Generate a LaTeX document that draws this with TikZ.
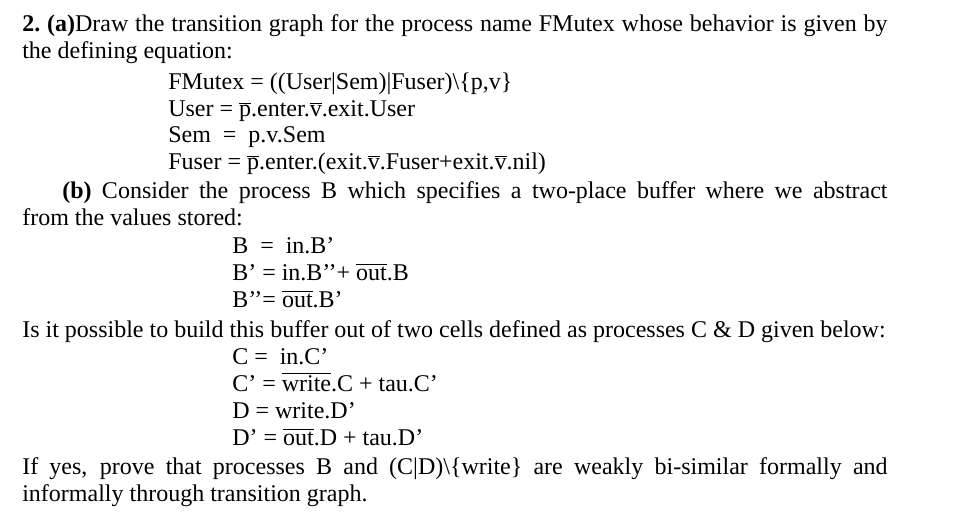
\documentclass[tikz,border=0pt]{standalone}
\usepackage{fontspec}
\setmainfont{Liberation Serif}
\newcommand{\olx}[1]{$\overline{\hbox{#1}}$}
\begin{document}
\begin{tikzpicture}[x=0.75pt,y=-0.75pt,
  txt/.style={anchor=base west,inner sep=0pt,font=\fontsize{18pt}{22pt}\selectfont}]
\fill[white] (0,0) rectangle (959,526);
\node[txt] (l1) at (22,31) {\makebox[649pt][s]{\textbf{2.~(a)}Draw the transition graph for the process name FMutex whose behavior is given by}};
\node[txt] (l2) at (22,58) {the defining equation:};
\node[txt] (l3) at (168,89) {FMutex = ((User|Sem)|Fuser)\textbackslash\{p,v\}};
\node[txt] (l4) at (168,116) {User = \olx{p}.enter.\olx{v}.exit.User};
\node[txt] (l5) at (168,142) {Sem \ = \ p.v.Sem};
\node[txt] (l6) at (168,169) {Fuser = \olx{p}.enter.(exit.\olx{v}.Fuser+exit.\olx{v}.nil)};
\node[txt] (l7) at (62,198) {\makebox[619pt][s]{\textbf{(b)} Consider the process B which specifies a two-place buffer where we abstract}};
\node[txt] (l8) at (22,225) {from the values stored:};
\node[txt] (l9) at (232,253) {B \ = \ in.B’};
\node[txt] (l10) at (232,280) {B’ = in.B’’+ \olx{out}.B};
\node[txt] (l11) at (232,307) {B’’= \olx{out}.B’};
\node[txt] (l12) at (22,337) {Is it possible to build this buffer out of two cells defined as processes C \& D given below:};
\node[txt] (l13) at (232,364) {C = \ in.C’};
\node[txt] (l14) at (232,391) {C’ = \olx{write}.C + tau.C’};
\node[txt] (l15) at (232,418) {D = write.D’};
\node[txt] (l16) at (232,445) {D’ = \olx{out}.D + tau.D’};
\node[txt] (l17) at (22,474) {\makebox[649pt][s]{If yes, prove that processes B and (C|D)\textbackslash\{write\} are weakly bi-similar formally and}};
\node[txt] (l18) at (22,501) {informally through transition graph.};
\end{tikzpicture}
\end{document}
